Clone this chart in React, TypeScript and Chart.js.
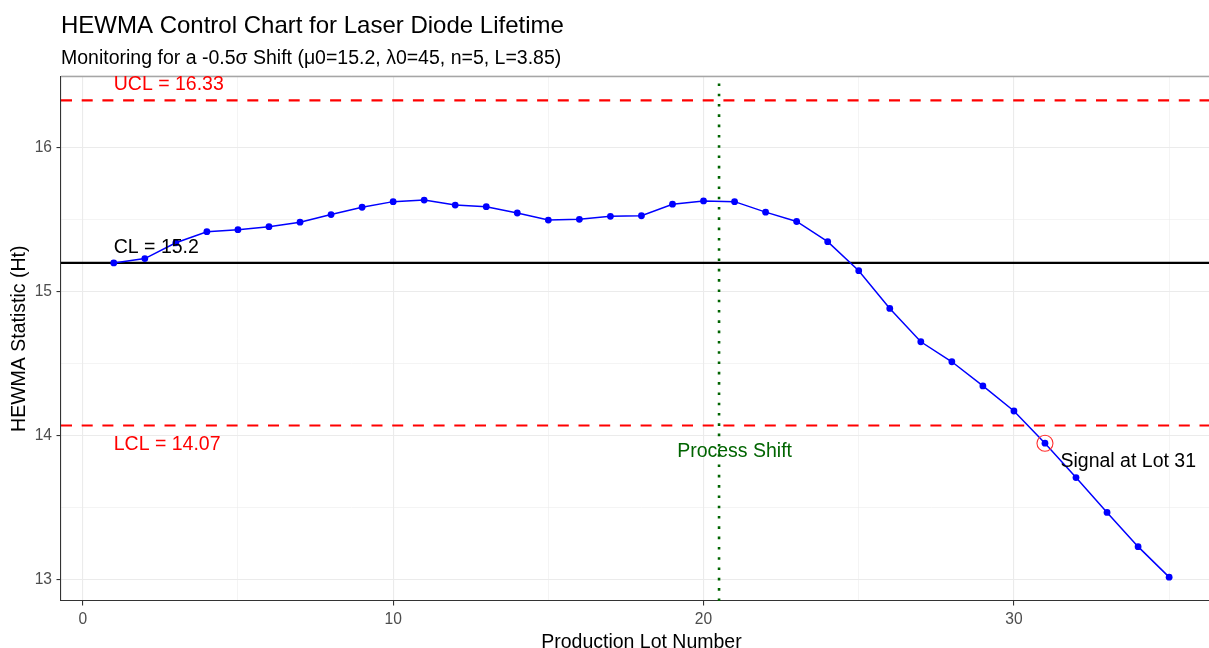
import React, { useEffect, useRef } from 'react';
import { Chart, registerables } from 'chart.js';

Chart.register(...registerables);

// ---- data ----
const lots = [1, 2, 3, 4, 5, 6, 7, 8, 9, 10, 11, 12, 13, 14, 15, 16, 17, 18, 19, 20, 21, 22, 23, 24, 25, 26, 27, 28, 29, 30, 31, 32, 33, 34, 35];
const hewma = [
  15.2, 15.23, 15.34, 15.417, 15.431, 15.452, 15.483, 15.536, 15.587, 15.626,
  15.637, 15.602, 15.591, 15.547, 15.498, 15.503, 15.524, 15.528, 15.608, 15.631,
  15.626, 15.553, 15.488, 15.348, 15.146, 14.884, 14.652, 14.513, 14.345, 14.171,
  13.947, 13.708, 13.466, 13.228, 13.016,
];
const controlLimits = [16.33, 15.2, 14.07]; // UCL, CL, LCL
const shiftAt = [20.5];
const signalLot = [31];
const xMajorTicks = [0, 10, 20, 30];
const xMinorTicks = [5, 15, 25, 35];
const yMajorTicks = [13, 14, 15, 16];
const yMinorTicks = [13.5, 14.5, 15.5, 16.5];
const labelTexts = ['UCL = 16.33', 'CL = 15.2', 'LCL = 14.07', 'Process Shift', 'Signal at Lot 31'];
const labelX = [1, 1, 1, 21, 31.5];
const labelY = [16.45, 15.32, 13.95, 13.9, 13.83];
const labelColors = ['#FF0000', '#000000', '#FF0000', '#006400', '#000000'];
const labelAlign = ['left', 'left', 'left', 'center', 'left'];

const FONT = '"Liberation Sans", Arial, Helvetica, sans-serif';
const VIEW_W = 1209;
const VIEW_H = 648;
// the plot panel of the reference runs past the right edge of the picture
const PANEL_RIGHT = 1222;

export default function App() {
  const ref = useRef<HTMLCanvasElement | null>(null);

  useEffect(() => {
    const canvas = ref.current;
    if (!canvas) return;

    const [UCL, CL, LCL] = controlLimits;
    const dataMin = Math.min(...hewma, LCL);
    const dataMax = Math.max(...hewma, UCL);
    const yPad = (dataMax - dataMin) * 0.05;
    const yMin = dataMin - yPad;
    const yMax = dataMax + yPad;
    const xPad = (lots[lots.length - 1] - lots[0]) * 0.05;
    const xMin = lots[0] - xPad;
    const xMax = lots[lots.length - 1] + xPad;

    const points = lots.map((l, i) => ({ x: l, y: hewma[i] }));
    const sigIdx = lots.indexOf(signalLot[0]);

    const isMajorX = (v: number) => xMajorTicks.includes(v);
    const isMajorY = (v: number) => yMajorTicks.includes(v);

    const annotPlugin = {
      id: 'annot',
      afterDatasetsDraw(chart: any) {
        const { ctx, chartArea, scales } = chart;
        const xs = scales.x;
        const ys = scales.y;
        ctx.save();
        ctx.strokeStyle = '#A6A6A6';
        ctx.lineWidth = 1.3;
        ctx.beginPath();
        ctx.moveTo(chartArea.left, chartArea.top);
        ctx.lineTo(chartArea.right, chartArea.top);
        ctx.lineTo(chartArea.right, chartArea.bottom);
        ctx.stroke();
        const size = 19.5;
        ctx.font = `${size}px ${FONT}`;
        ctx.textBaseline = 'alphabetic';
        labelTexts.forEach((t, i) => {
          ctx.fillStyle = labelColors[i];
          ctx.textAlign = labelAlign[i] as CanvasTextAlign;
          ctx.fillText(t, xs.getPixelForValue(labelX[i]), ys.getPixelForValue(labelY[i]) + 0.358 * size);
        });
        ctx.restore();
      },
    };

    const makeChart = (w: number) => {
      canvas.width = w;
      canvas.height = VIEW_H;
      canvas.style.width = `${w}px`;
      canvas.style.height = `${VIEW_H}px`;
      return new Chart(canvas, {
        type: 'scatter',
        data: {
          datasets: [
            { label: 'HEWMA', data: points, showLine: true, borderColor: '#0000FF', backgroundColor: '#0000FF', borderWidth: 1.5, pointRadius: 3.4, pointBorderWidth: 0, tension: 0, order: 1 },
            { label: 'Signal', data: [{ x: signalLot[0], y: hewma[sigIdx] }], showLine: false, pointRadius: 8, pointBorderColor: '#FF3030', pointBackgroundColor: 'rgba(0,0,0,0)', pointBorderWidth: 1.1, order: 0 },
            { label: 'UCL', data: [{ x: xMin, y: UCL }, { x: xMax, y: UCL }], showLine: true, borderColor: '#FF0000', borderWidth: 2.2, borderDash: [11, 9.7], pointRadius: 0, order: 5 },
            { label: 'LCL', data: [{ x: xMin, y: LCL }, { x: xMax, y: LCL }], showLine: true, borderColor: '#FF0000', borderWidth: 2.2, borderDash: [11, 9.7], pointRadius: 0, order: 5 },
            { label: 'CL', data: [{ x: xMin, y: CL }, { x: xMax, y: CL }], showLine: true, borderColor: '#000000', borderWidth: 2.2, pointRadius: 0, order: 5 },
            { label: 'Shift', data: [{ x: shiftAt[0], y: yMin }, { x: shiftAt[0], y: yMax }], showLine: true, borderColor: '#006400', borderWidth: 2.6, borderDash: [2.6, 7.7], pointRadius: 0, order: 4 },
          ],
        },
        options: {
          responsive: false,
          maintainAspectRatio: false,
          animation: false,
          devicePixelRatio: 1,
          layout: { padding: 0 },
          plugins: {
            legend: { display: false },
            tooltip: { enabled: false },
            title: {
              display: true,
              text: 'HEWMA Control Chart for Laser Diode Lifetime',
              align: 'start',
              fullSize: false,
              color: '#000000',
              font: { family: FONT, size: 24, weight: 'normal', lineHeight: 1.2 },
              padding: { top: 12, bottom: 0 },
            },
            subtitle: {
              display: true,
              text: 'Monitoring for a -0.5σ Shift (μ0=15.2, λ0=45, n=5, L=3.85)',
              align: 'start',
              fullSize: false,
              color: '#000000',
              font: { family: FONT, size: 19.5, weight: 'normal', lineHeight: 1.2 },
              padding: { top: 6.5, bottom: 5.8 },
            },
          },
          scales: {
            x: {
              type: 'linear',
              min: xMin,
              max: xMax,
              afterFit: (scale: any) => {
                scale.height = 47;
                scale.paddingLeft = 0;
                scale.paddingRight = 0;
              },
              afterBuildTicks: (scale: any) => {
                scale.ticks = [...xMajorTicks, ...xMinorTicks].sort((a, b) => a - b).map((v) => ({ value: v }));
              },
              ticks: {
                autoSkip: false,
                maxRotation: 0,
                padding: 5,
                color: '#4D4D4D',
                font: { family: FONT, size: 15.6 },
                callback: (v: any) => (isMajorX(Number(v)) ? String(v) : ''),
              },
              grid: {
                color: '#EBEBEB',
                lineWidth: (c: any) => (c.tick && isMajorX(c.tick.value) ? 1.1 : 0.55),
                drawTicks: true,
                tickLength: 4.5,
                tickColor: (c: any) => (c.tick && isMajorX(c.tick.value) ? '#333333' : 'rgba(0,0,0,0)'),
                tickWidth: 1.1,
              },
              border: { display: true, color: '#333333', width: 1.1 },
              title: {
                display: true,
                text: 'Production Lot Number',
                color: '#000000',
                font: { family: FONT, size: 19.5, lineHeight: 0.6 },
                padding: { top: 0, bottom: 0 },
              },
            },
            y: {
              type: 'linear',
              min: yMin,
              max: yMax,
              afterFit: (scale: any) => {
                scale.width = 61;
                scale.paddingTop = 0;
                scale.paddingBottom = 0;
              },
              afterBuildTicks: (scale: any) => {
                scale.ticks = [...yMajorTicks, ...yMinorTicks].sort((a, b) => a - b).map((v) => ({ value: v }));
              },
              ticks: {
                autoSkip: false,
                padding: 4.5,
                color: '#4D4D4D',
                font: { family: FONT, size: 15.6 },
                callback: (v: any) => (isMajorY(Number(v)) ? String(v) : ''),
              },
              grid: {
                color: '#EBEBEB',
                lineWidth: (c: any) => (c.tick && isMajorY(c.tick.value) ? 1.1 : 0.55),
                drawTicks: true,
                tickLength: 4.5,
                tickColor: (c: any) => (c.tick && isMajorY(c.tick.value) ? '#333333' : 'rgba(0,0,0,0)'),
                tickWidth: 1.1,
              },
              border: { display: true, color: '#333333', width: 1.1 },
              title: {
                display: true,
                text: 'HEWMA Statistic (Ht)',
                color: '#000000',
                font: { family: FONT, size: 19.5, lineHeight: 1.2 },
                padding: { top: 7.5, bottom: 0 },
              },
            },
          },
        },
        plugins: [annotPlugin],
      } as any);
    };

    let width = PANEL_RIGHT;
    let chart = makeChart(width);
    const diff = chart.chartArea.right - PANEL_RIGHT;
    if (Math.abs(diff) > 0.5) {
      chart.destroy();
      width = Math.round(width - diff);
      chart = makeChart(width);
    }

    return () => chart.destroy();
  }, []);

  return (
    <div style={{ position: 'fixed', left: 0, top: 0, width: VIEW_W, height: VIEW_H, overflow: 'hidden', background: '#ffffff' }}>
      <canvas ref={ref} width={PANEL_RIGHT} height={VIEW_H} style={{ display: 'block' }} />
    </div>
  );
}
